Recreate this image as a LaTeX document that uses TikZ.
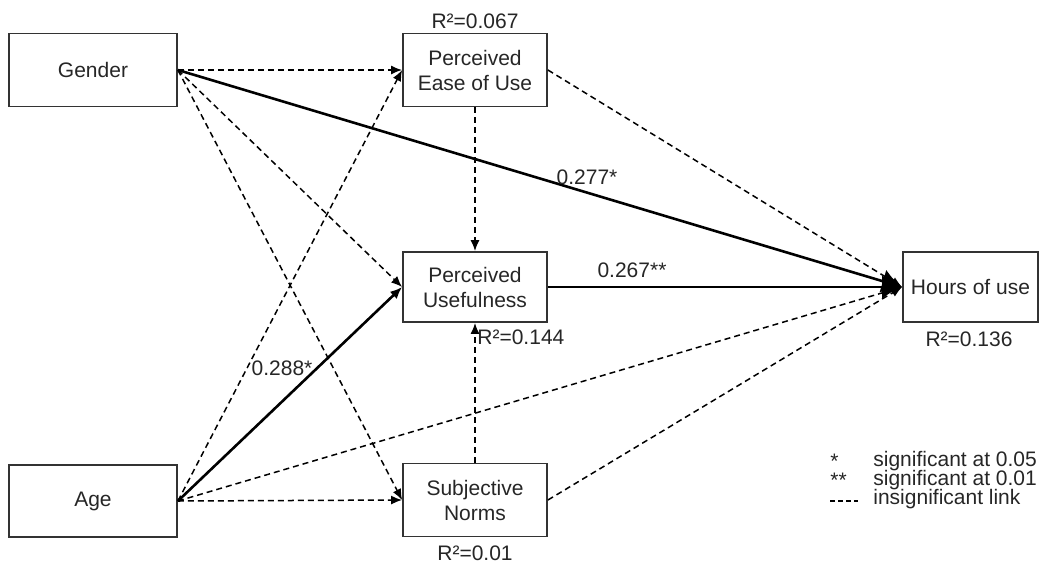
\documentclass[tikz,border=0pt]{standalone}
\usepackage{fontspec}
\setmainfont{Liberation Sans}
\usetikzlibrary{arrows.meta}
\usetikzlibrary{positioning}

\begin{document}
\begin{tikzpicture}[x=0.5pt,y=-0.5pt,font=\fontsize{10.5}{12.5}\selectfont,
    main node/.style={rectangle,draw=black!80,line width=0.9pt,align=center,text=black!85,
      minimum width=72pt,minimum height=36.5pt,inner sep=0pt},
    small node/.style={inner sep=0pt,text=black!85},
    insig/.style={-{Latex[length=5.5pt,width=4.5pt]},dash pattern=on 3pt off 2pt,line width=0.75pt},
    sig/.style={-{Latex[length=6pt,width=5pt]},line width=1.3pt},
    sig big/.style={-{Latex[length=10pt,width=12pt]},line width=1.3pt}]
   \useasboundingbox (0,0) rectangle (1041,564);
   % constructs
   \node[main node,minimum width=84pt] (gender) at (93,70) {Gender};
   \node[main node,minimum width=84pt,minimum height=36pt] (age) at (93,501) {Age};
   \node[main node] (peou) at (475,70) {Perceived\\Ease of Use};
   \node[main node,minimum height=35pt] (pu) at (475,287) {Perceived\\Usefulness};
   \node[main node] (sn) at (475,500) {Subjective\\Norms};
   \node[main node,minimum width=67.5pt,minimum height=35pt] (hours) at (970.5,287) {Hours of use};
   % R square values
   \node[small node] (r2peou) at (475,21) {R²=0.067};
   \node[small node,anchor=west] (r2pu) at (477,337) {R²=0.144};
   \node[small node] (r2sn) at (475,553) {R²=0.01};
   \node[small node] (r2hours) at (969,339) {R²=0.136};
   % insignificant links
   \path[insig] (gender.east) edge (peou.west);
   \path[insig] (gender.east) edge (pu.west);
   \path[insig] (gender.east) edge (sn.west);
   \path[insig] (age.east) edge (peou.west);
   \path[insig] (age.east) edge (sn.west);
   \path[insig] (age.east) edge (hours.west);
   \path[insig] (peou.south) edge (pu.north);
   \path[insig] (sn.north) edge (pu.south);
   \path[insig] (peou.east) edge (hours.west);
   \path[insig] (sn.east) edge (hours.west);
   % significant links
   \path[sig] (age.east) edge (pu.west);
   \path[sig big] (gender.east) edge (hours.west);
   \path[sig big] (pu.east) edge (hours.west);
   \node[small node] (b288) at (282,368) {0.288*};
   \node[small node] (b277) at (587,177) {0.277*};
   \node[small node] (b267) at (632,270) {0.267**};
   % legend
   \node[small node,anchor=west] (star1) at (830,461) {*};
   \node[small node,anchor=west] (sig05) at (873,461) {significant at 0.05};
   \node[small node,anchor=west] (star2) at (830,480) {**};
   \node[small node,anchor=west] (sig01) at (873,480) {significant at 0.01};
   \node[small node,anchor=west] (insiglink) at (873,499) {insignificant link};
   \coordinate (dashA) at (830,501);
   \coordinate (dashB) at (858,501);
   \path[-,dash pattern=on 2.5pt off 1.5pt,line width=0.6pt] (dashA) edge (dashB);
\end{tikzpicture}
\end{document}
